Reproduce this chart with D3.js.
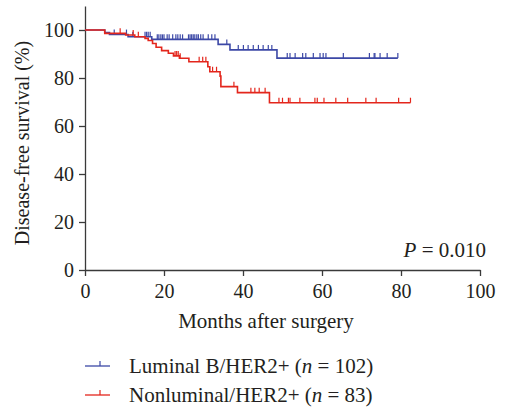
<!DOCTYPE html>
<html><head><meta charset="utf-8">
<script src="https://cdn.jsdelivr.net/npm/d3@7"></script>
<style>body{margin:0;background:#fff;} svg{display:block;} text{font-family:"Liberation Serif","DejaVu Serif",serif;fill:#231f20;}</style>
</head><body>
<svg id="c" width="505" height="410"></svg>
<script>
const xTicks = [0, 20, 40, 60, 80, 100];
const yTicks = [0, 20, 40, 60, 80, 100];
// Luminal B/HER2+ : event times and survival after each event
const blueTimes = [0, 5, 6.2, 10.9, 16.9, 33.7, 36.7, 48.6];
const blueSurv  = [100, 98.9, 98.1, 97.2, 96.1, 94.0, 91.7, 88.3];
const blueEnd = 79.2;
const blueCens = [7.4, 10.5, 12.1, 15.2, 15.6, 16.0, 16.5, 18.3, 18.7, 19.2, 19.6, 20.0, 20.8, 21.3, 22.2, 23.0, 23.5, 24.1, 24.7, 26.2, 26.6, 27.0, 27.4, 27.8, 28.3, 28.7, 29.3, 29.9, 31.2, 32.1, 32.9, 35.9, 38.8, 40.1, 41.3, 42.6, 43.9, 45.1, 46.4, 47.3, 51.2, 51.9, 53.2, 55.1, 55.9, 57.8, 59.5, 60.3, 61.0, 65.4, 72.0, 73.2, 73.4, 74.7, 76.5, 79.2];
// Nonluminal/HER2+
const redTimes = [0, 5, 10.3, 12.6, 15.2, 16.0, 17.1, 18.0, 19.4, 21.1, 22.4, 23.9, 26.3, 31.1, 31.6, 34.2, 34.4, 38.6, 46.7];
const redSurv  = [100, 98.6, 97.9, 97.2, 96.5, 95.6, 94.4, 92.8, 91.4, 90.3, 89.2, 88.2, 86.8, 84.7, 82.6, 80.8, 76.4, 73.9, 69.7];
const redEnd = 82.4;
const redCens = [8.9, 12.2, 13.5, 22.8, 23.2, 23.6, 24.1, 28.9, 29.8, 30.6, 32.3, 33.3, 37.7, 42.0, 43.0, 44.1, 45.6, 49.1, 50.0, 51.5, 51.9, 54.4, 58.2, 58.8, 60.5, 63.5, 66.5, 71.1, 73.7, 79.4, 82.4];
const legendLabels = ["Luminal B/HER2+ (", "Nonluminal/HER2+ ("];
const legendN = ["102", "83"];
const blue = "#3c48a6", red = "#e3261c";

const svg = d3.select("#c");
const x = d3.scaleLinear().domain([0, 100]).range([85, 480]);
const y = d3.scaleLinear().domain([0, 110]).range([270, 6]);

// axes
const xa = svg.append("g").attr("transform", "translate(0,270)")
  .call(d3.axisBottom(x).tickValues(xTicks).tickSize(6).tickPadding(8).tickSizeOuter(0));
const ya = svg.append("g").attr("transform", "translate(85,0)")
  .call(d3.axisLeft(y).tickValues(yTicks).tickSize(6).tickPadding(5).tickSizeOuter(0));
[xa, ya].forEach(a => {
  a.selectAll("path,line").attr("stroke", "#3a3a3a").attr("stroke-width", 1.3);
  a.selectAll("text").attr("font-size", 20).attr("font-family", "Liberation Serif").attr("fill", "#231f20");
});
xa.selectAll("text").attr("dy", "0.71em");

function stepPath(times, surv, end) {
  const pts = [];
  for (let i = 0; i < times.length; i++) {
    if (i > 0) pts.push([times[i], surv[i - 1]]);
    pts.push([times[i], surv[i]]);
  }
  pts.push([end, surv[surv.length - 1]]);
  return d3.line().x(d => x(d[0])).y(d => y(d[1]))(pts);
}
function survAt(times, surv, t) {
  let s = surv[0];
  for (let i = 0; i < times.length; i++) if (times[i] <= t) s = surv[i];
  return s;
}
function drawCurve(times, surv, end, cens, color) {
  svg.append("path").attr("d", stepPath(times, surv, end)).attr("fill", "none")
    .attr("stroke", color).attr("stroke-width", 1.6);
  svg.append("g").selectAll("line").data(cens).join("line")
    .attr("x1", d => x(d)).attr("x2", d => x(d))
    .attr("y1", d => y(survAt(times, surv, d)))
    .attr("y2", d => y(survAt(times, surv, d)) - 5)
    .attr("stroke", color).attr("stroke-width", 1.2);
}
drawCurve(blueTimes, blueSurv, blueEnd, blueCens, blue);
drawCurve(redTimes, redSurv, redEnd, redCens, red);

// labels
svg.append("text").attr("transform", "translate(29,143) rotate(-90)").attr("text-anchor", "middle")
  .attr("font-size", 20).text("Disease-free survival (%)");
svg.append("text").attr("x", 266).attr("y", 328).attr("text-anchor", "middle")
  .attr("font-size", 21).text("Months after surgery");
const pt = svg.append("text").attr("x", 486).attr("y", 257).attr("text-anchor", "end").attr("font-size", 21);
pt.append("tspan").attr("font-style", "italic").text("P");
pt.append("tspan").text(" = 0.010");

// legend
[blue, red].forEach((c, i) => {
  const ly = 366 + i * 29;
  svg.append("line").attr("x1", 85).attr("x2", 110).attr("y1", ly).attr("y2", ly).attr("stroke", c).attr("stroke-width", 1.3);
  svg.append("line").attr("x1", 100).attr("x2", 100).attr("y1", ly).attr("y2", ly - 5).attr("stroke", c).attr("stroke-width", 1.2);
  const t = svg.append("text").attr("x", 129).attr("y", ly + 7).attr("font-size", 21);
  t.append("tspan").text(legendLabels[i]);
  t.append("tspan").attr("font-style", "italic").text("n");
  t.append("tspan").text(" = " + legendN[i] + ")");
});
</script>
</body></html>
